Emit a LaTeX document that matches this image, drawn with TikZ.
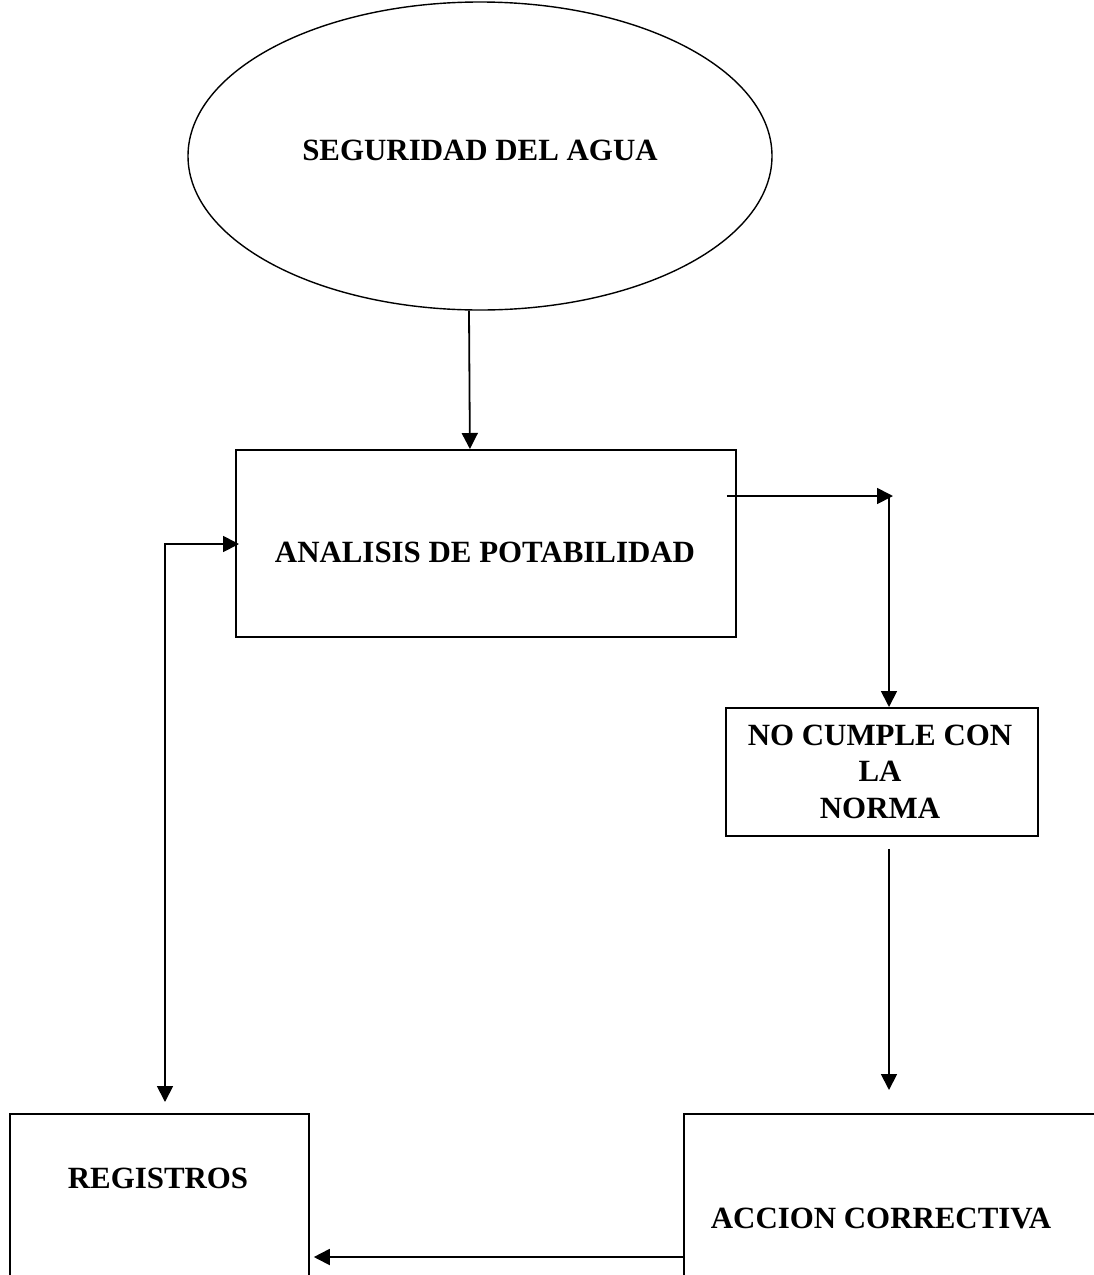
\documentclass[tikz,border=0pt]{standalone}
\usepackage{fontspec}
\setmainfont{Liberation Serif}
\usetikzlibrary{shapes.geometric,arrows.meta}
\tikzset{
  box/.style={draw, line width=1.8pt, rectangle, inner sep=0pt, anchor=north west},
  lbl/.style={font=\fontsize{30.9}{36.5}\selectfont\bfseries, align=center, inner sep=0pt},
  conn/.style={line width=1.8pt, -{Triangle[length=16pt,width=16pt]}},
}
\begin{document}
\begin{tikzpicture}[x=1pt,y=-1pt]
  \useasboundingbox (0,0) rectangle (1094,1275);
  \clip (0,0) rectangle (1094,1275);

  % water safety ellipse
  \node[draw, line width=1.4pt, ellipse, minimum width=584pt, minimum height=308pt, inner sep=0pt] (ell) at (480,156) {};
  \node[lbl] (tEll) at (480,150) {SEGURIDAD DEL AGUA};

  % process boxes
  \node[box, minimum width=500pt, minimum height=187pt] (ana) at (235,449) {};
  \node[lbl] (tAna) at (485,552) {ANALISIS DE POTABILIDAD};

  \node[box, minimum width=312pt, minimum height=128pt] (nc) at (725,707) {};
  \node[lbl] (tNc) at (880,771.5) {NO CUMPLE CON\\LA\\NORMA};

  \node[box, minimum width=299pt, minimum height=200pt] (reg) at (9,1113) {};
  \node[lbl] (tReg) at (158,1178) {REGISTROS};

  \node[box, minimum width=430pt, minimum height=200pt] (acc) at (683,1113) {};
  \node[lbl] (tAcc) at (881,1218) {ACCION CORRECTIVA};

  % connectors
  \coordinate (cR) at (889,496);
  \coordinate (cL) at (165,544);

  \draw[conn] ([xshift=-11pt]ell.south) -- ([xshift=-16pt]ana.north);
  \draw[conn] ([xshift=-10pt]ana.east |- cR) -- ([xshift=4pt]cR);
  \draw[line width=1.8pt] (cR) -- ++(0,-1);
  \draw[conn] (cR) -- (cR |- nc.north);
  \draw[conn] ([yshift=-12pt]cR |- nc.south) -- ([yshift=23pt]cR |- acc.north);
  \draw[conn] ([xshift=2pt]acc.north west |- 0,1257) -- ([xshift=4pt]reg.north east |- 0,1257);
  \draw[line width=1.8pt, {Triangle[length=16pt,width=16pt]}-{Triangle[length=16pt,width=16pt]}]
    ([yshift=11pt]cL |- reg.north) -- (cL) -- ([xshift=4pt]ana.west |- cL);
\end{tikzpicture}
\end{document}
